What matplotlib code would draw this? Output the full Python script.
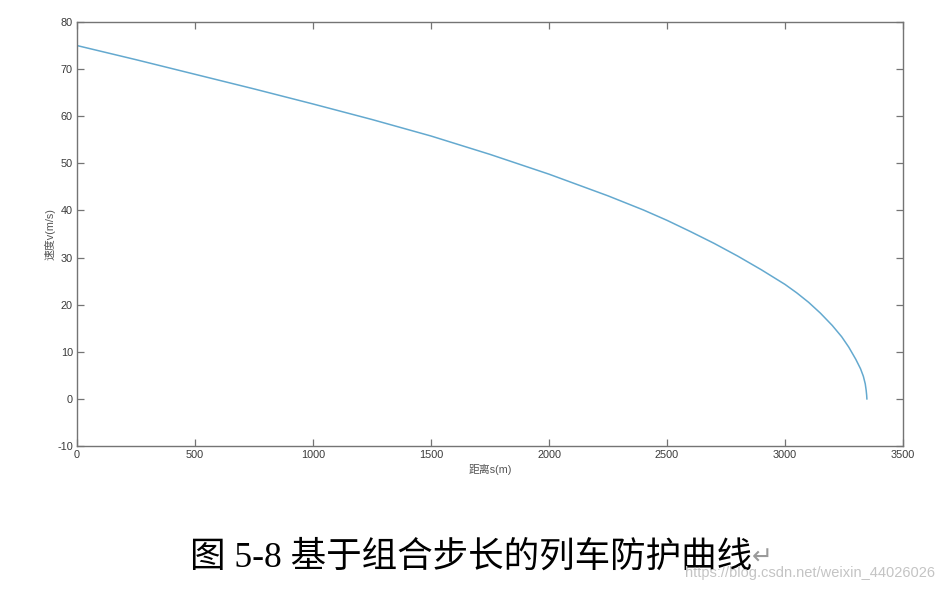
# train protection curve (speed vs distance), matlab-like look
import matplotlib
matplotlib.use("Agg")
import matplotlib.pyplot as plt

plt.rcParams["axes.unicode_minus"] = False

# distance (m) and speed (m/s)
dist = [0, 250, 500, 750, 1000, 1250, 1500, 1750, 2000, 2250, 2400, 2500,
        2600, 2700, 2800, 2900, 3000, 3050, 3100, 3150, 3200, 3240, 3270,
        3300, 3320, 3332, 3340, 3344, 3346, 3347]
speed = [75.0, 72.0, 68.9, 65.8, 62.6, 59.3, 55.8, 51.9, 47.7, 43.1, 40.1, 37.9,
         35.5, 33.0, 30.3, 27.4, 24.3, 22.5, 20.5, 18.2, 15.6, 13.2, 11.0,
         8.4, 6.4, 4.8, 3.2, 1.8, 0.8, 0.0]

xticks = [0, 500, 1000, 1500, 2000, 2500, 3000, 3500]
yticks = [-10, 0, 10, 20, 30, 40, 50, 60, 70, 80]

xlabel = "距离s(m)"
ylabel = "速度v(m/s)"
caption = "图 5-8 基于组合步长的列车防护曲线"
watermark = "https://blog.csdn.net/weixin_44026026"

sans = ["Liberation Sans", "Noto Sans CJK SC", "DejaVu Sans"]
serif = ["Liberation Serif", "Noto Sans CJK SC", "DejaVu Sans"]

W, H = 941, 591
fig = plt.figure(figsize=(W / 100, H / 100), dpi=100)
# axes box: left 77px, right 903px, top 22px, bottom 446px
ax = fig.add_axes([77 / W, 1 - 446 / H, (903 - 77) / W, (446 - 22) / H])

ax.plot(dist, speed, color="#64a9cf", linewidth=1.1)

ax.set_xlim(0, 3500)
ax.set_ylim(-10, 80)
ax.set_xticks(xticks)
ax.set_yticks(yticks)

axcol = "#747474"
txtcol = "#3a3a3a"
for sp in ax.spines.values():
    sp.set_color(axcol)
    sp.set_linewidth(1.0)
ax.tick_params(direction="in", length=5, width=0.9, color=axcol,
               top=True, right=True, labelsize=7.8, labelcolor=txtcol, pad=3)
for lab in ax.get_xticklabels() + ax.get_yticklabels():
    lab.set_family(sans)

ax.set_xlabel(xlabel, family=sans, fontsize=7.8, color="#555555", labelpad=3)
ax.set_ylabel(ylabel, family=sans, fontsize=7.8, color="#555555", labelpad=1)

# figure caption below the chart
cap = fig.text(190 / W, 1 - 558 / H, caption, family=serif, fontsize=25.6,
               color="black", ha="left", va="center")
ax.annotate("↵", xy=(1, 0.5), xycoords=cap, xytext=(0, 0),
            textcoords="offset points", ha="left", va="center",
            fontsize=18, color="#9a9a9a", family=["DejaVu Sans"])

fig.text(935 / W, 1 - 573 / H, watermark, family=sans, fontsize=10.5,
         color="#c4c4c4", ha="right", va="center")

fig.savefig("out.png", dpi=100, facecolor="white")
